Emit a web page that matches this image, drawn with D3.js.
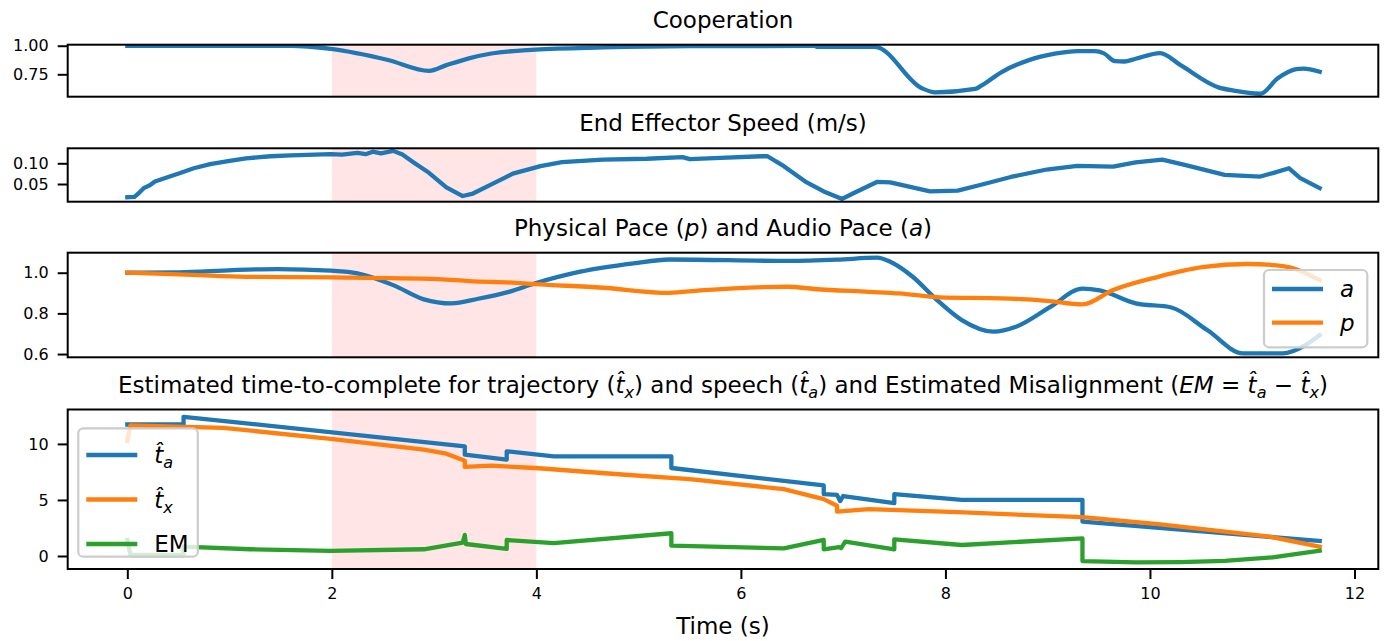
<!DOCTYPE html>
<html>
<head>
<meta charset="utf-8">
<script src="https://cdn.jsdelivr.net/npm/d3@7"></script>
<style>
  body { margin: 0; background: #fff; }
  svg { display: block; }
  text { font-family: "DejaVu Sans", sans-serif; fill: #000; }
</style>
</head>
<body>
<svg id="chart" width="1385" height="641"></svg>
<script>
// time axis shared by all panels (seconds)
var xTicks = [0, 2, 4, 6, 8, 10, 12];
var shade = [2, 4];

// Cooperation [t, value]
var coop = [[0,1.0],[1.6,1.0],[1.99,0.972],[2.55,0.875],[2.95,0.78],[3.12,0.83],[3.34,0.89],[3.56,0.932],
  [3.99,0.966],[4.65,0.985],[5.5,0.996],[6.72,0.998],[6.75,0.99],[7.31,0.99],[7.77,0.628],[7.9,0.592],
  [8.29,0.622],[8.35,0.65],[8.55,0.77],[8.81,0.872],[9.07,0.93],[9.29,0.953],[9.46,0.952],[9.55,0.933],
  [9.66,0.865],[9.75,0.862],[9.86,0.886],[10.1,0.936],[10.3,0.83],[10.67,0.636],[10.82,0.607],[11.08,0.58],
  [11.25,0.715],[11.43,0.795],[11.5,0.8],[11.66,0.772]];

// End effector speed (m/s)
var speed = [[0,0.018],[0.07,0.019],[0.12,0.03],[0.16,0.04],[0.22,0.047],[0.27,0.056],[0.4,0.067],[0.51,0.076],
  [0.65,0.088],[0.81,0.098],[1.0,0.106],[1.16,0.112],[1.4,0.117],[1.6,0.119],[1.99,0.122],[2.1,0.121],
  [2.25,0.125],[2.33,0.122],[2.4,0.128],[2.48,0.124],[2.6,0.13],[2.69,0.121],[2.8,0.102],[2.95,0.077],
  [3.12,0.042],[3.28,0.021],[3.38,0.027],[3.56,0.049],[3.77,0.075],[4.04,0.093],[4.25,0.103],[4.65,0.109],
  [5.08,0.111],[5.43,0.115],[5.5,0.11],[5.8,0.113],[6.2,0.117],[6.26,0.117],[6.42,0.093],[6.63,0.056],
  [6.81,0.032],[6.99,0.014],[7.11,0.029],[7.33,0.055],[7.46,0.054],[7.85,0.032],[8.12,0.034],[8.33,0.047],
  [8.64,0.067],[8.99,0.085],[9.29,0.094],[9.64,0.092],[9.86,0.102],[10.12,0.109],[10.34,0.096],[10.73,0.072],
  [11.08,0.068],[11.21,0.077],[11.36,0.088],[11.47,0.064],[11.66,0.04]];

// Audio pace (a) and physical pace (p)
var aPace = [[0,1.0],[0.51,1.002],[1.03,1.013],[1.47,1.018],[1.99,1.01],[2.25,0.997],[2.6,0.939],[2.9,0.869],
  [3.17,0.849],[3.43,0.872],[3.73,0.906],[3.99,0.948],[4.43,1.005],[4.95,1.046],[5.3,1.065],[6.46,1.058],
  [6.94,1.064],[7.33,1.074],[7.46,1.054],[7.68,0.98],[7.9,0.874],[8.16,0.767],[8.47,0.71],[8.69,0.734],
  [9.03,0.833],[9.34,0.922],[9.51,0.913],[9.86,0.849],[10.21,0.829],[10.56,0.718],[10.91,0.603],[11.3,0.603],
  [11.52,0.644],[11.66,0.693]];
var pPace = [[0,1.0],[0.64,0.989],[1.16,0.98],[1.99,0.977],[3.04,0.969],[3.34,0.959],[3.77,0.951],[3.99,0.944],
  [4.65,0.926],[5.3,0.901],[5.6,0.913],[6.46,0.931],[6.72,0.92],[7.25,0.906],[7.55,0.898],[7.94,0.879],
  [8.55,0.874],[8.99,0.862],[9.34,0.844],[9.64,0.915],[10.08,0.98],[10.51,1.027],[10.95,1.043],[11.3,1.033],
  [11.66,0.964]];

// estimated time-to-complete, speech (ta) and trajectory (tx), and misalignment EM
var taHat = [[0,11.73],[0.55,11.73],[0.55,12.42],[3.3,9.79],[3.3,9.04],[3.71,8.6],[3.71,9.34],[4.17,8.89],
  [5.32,8.89],[5.32,7.85],[6.81,6.3],[6.81,5.52],[6.94,5.45],[6.97,4.9],[7.0,5.35],[7.5,4.72],[7.5,5.52],
  [8.16,5.01],[9.34,5.01],[9.34,3.07],[11.66,1.34]];
var txHat = [[0,10.25],[0.03,11.65],[0.94,11.43],[1.99,10.45],[2.9,9.49],[3.12,9.13],[3.3,8.5],[3.3,7.95],
  [3.56,8.06],[3.99,7.85],[4.87,7.25],[5.5,6.85],[6.42,5.97],[6.81,5.08],[6.94,4.48],[6.94,3.95],[7.25,4.18],
  [8.12,3.91],[9.34,3.46],[10.08,2.84],[11.17,1.73],[11.66,0.83]];
var em = [[0,1.43],[0.03,0.09],[0.55,0.09],[0.55,0.83],[1.2,0.6],[1.99,0.45],[2.9,0.6],[3.28,1.19],[3.3,1.88],
  [3.31,1.07],[3.71,0.63],[3.71,1.43],[4.17,1.14],[5.32,2.03],[5.32,0.92],[6.42,0.68],[6.81,1.43],[6.81,0.6],
  [6.96,0.8],[6.98,0.7],[7.02,1.28],[7.5,0.6],[7.5,1.49],[8.16,0.98],[9.34,1.58],[9.34,-0.45],[9.86,-0.56],
  [10.3,-0.54],[10.73,-0.44],[11.2,-0.12],[11.66,0.47]];

var blue = "#1f77b4", orange = "#ff7f0e", green = "#2ca02c";

var svg = d3.select("#chart");
var x = d3.scaleLinear().domain([-0.583, 12.233]).range([67.7, 1378.3]);

var panels = [
  { top: 44.7, bottom: 96.7, dom: [0.554, 1.009], ticks: [0.75, 1.0], fmt: ".2f",
    title: [{t: "Cooperation"}],
    series: [{d: coop, c: blue, curve: d3.curveMonotoneX}] },
  { top: 148.3, bottom: 201.7, dom: [0.0073, 0.1362], ticks: [0.05, 0.10], fmt: ".2f",
    title: [{t: "End Effector Speed (m/s)"}],
    series: [{d: speed, c: blue, curve: d3.curveLinear}] },
  { top: 252.7, bottom: 357.3, dom: [0.584, 1.0985], ticks: [0.6, 0.8, 1.0], fmt: ".1f",
    title: [{t: "Physical Pace ("}, {t: "p", i: 1}, {t: ") and Audio Pace ("}, {t: "a", i: 1}, {t: ")"}],
    series: [{d: aPace, c: blue, curve: d3.curveMonotoneX}, {d: pPace, c: orange, curve: d3.curveMonotoneX}] },
  { top: 409.5, bottom: 569, dom: [-1.16, 13.07], ticks: [0, 5, 10], fmt: "d",
    title: [{t: "Estimated time-to-complete for trajectory ("}, {t: "t\u0302", i: 1}, {t: "x", i: 1, s: 1},
      {t: ") and speech ("}, {t: "t\u0302", i: 1}, {t: "a", i: 1, s: 1},
      {t: ") and Estimated Misalignment ("}, {t: "EM", i: 1}, {t: " = "}, {t: "t\u0302", i: 1}, {t: "a", i: 1, s: 1},
      {t: " \u2212 "}, {t: "t\u0302", i: 1}, {t: "x", i: 1, s: 1}, {t: ")"}],
    series: [{d: taHat, c: blue, curve: d3.curveLinear}, {d: txHat, c: orange, curve: d3.curveLinear},
      {d: em, c: green, curve: d3.curveLinear}] }
];

function richText(sel, parts, size) {
  parts.forEach(function(p) {
    var ts = sel.append("tspan").text(p.t);
    if (p.i) ts.attr("font-style", "italic");
    if (p.s) ts.attr("font-size", size * 0.7).attr("baseline-shift", -size * 0.22);
  });
}

panels.forEach(function(p, k) {
  var y = d3.scaleLinear().domain(p.dom).range([p.bottom, p.top]);
  var g = svg.append("g");
  var cid = "clip" + k;
  svg.append("clipPath").attr("id", cid).append("rect")
    .attr("x", x.range()[0]).attr("y", p.top).attr("width", x.range()[1] - x.range()[0]).attr("height", p.bottom - p.top);

  g.append("rect")
    .attr("x", x(shade[0])).attr("y", p.top)
    .attr("width", x(shade[1]) - x(shade[0])).attr("height", p.bottom - p.top)
    .attr("fill", "#ffe5e5");

  p.series.forEach(function(s) {
    var line = d3.line().x(function(d) { return x(d[0]); }).y(function(d) { return y(d[1]); }).curve(s.curve);
    g.append("path").datum(s.d)
      .attr("clip-path", "url(#" + cid + ")")
      .attr("d", line).attr("fill", "none").attr("stroke", s.c)
      .attr("stroke-width", 4.3).attr("stroke-linejoin", "round").attr("stroke-linecap", "square");
  });

  var ya = g.append("g").attr("transform", "translate(" + x.range()[0] + ",0)")
    .call(d3.axisLeft(y).tickValues(p.ticks).tickFormat(d3.format(p.fmt)).tickSize(10).tickSizeOuter(0).tickPadding(9));
  ya.select(".domain").remove();
  ya.selectAll("line").attr("stroke", "#000").attr("stroke-width", 2);
  ya.selectAll("text").attr("font-size", 16).attr("font-family", "DejaVu Sans");

  if (k === panels.length - 1) {
    var xa = g.append("g").attr("transform", "translate(0," + p.bottom + ")")
      .call(d3.axisBottom(x).tickValues(xTicks).tickFormat(d3.format("d")).tickSize(10).tickSizeOuter(0).tickPadding(9));
    xa.select(".domain").remove();
    xa.selectAll("line").attr("stroke", "#000").attr("stroke-width", 2);
    xa.selectAll("text").attr("font-size", 16).attr("font-family", "DejaVu Sans");
  }

  g.append("rect")
    .attr("x", x.range()[0]).attr("y", p.top)
    .attr("width", x.range()[1] - x.range()[0]).attr("height", p.bottom - p.top)
    .attr("fill", "none").attr("stroke", "#000").attr("stroke-width", 2);

  var tt = g.append("text").attr("x", (x.range()[0] + x.range()[1]) / 2).attr("y", p.top - 17)
    .attr("text-anchor", "middle").attr("font-size", 23);
  richText(tt, p.title, 23);
});

svg.append("text").attr("x", (x.range()[0] + x.range()[1]) / 2).attr("y", 634)
  .attr("text-anchor", "middle").attr("font-size", 23).text("Time (s)");

// legends
function legend(box, rows, gap, firstY) {
  var lg = svg.append("g");
  lg.append("rect").attr("x", box[0]).attr("y", box[1]).attr("width", box[2]).attr("height", box[3])
    .attr("rx", 5).attr("fill", "#fff").attr("fill-opacity", 0.8)
    .attr("stroke", "#cccccc").attr("stroke-width", 2.2);
  rows.forEach(function(r, i) {
    var yy = firstY + i * gap;
    lg.append("line").attr("x1", box[0] + 8).attr("x2", box[0] + 59).attr("y1", yy).attr("y2", yy)
      .attr("stroke", r.c).attr("stroke-width", 4.3);
    var t = lg.append("text").attr("x", box[0] + 76).attr("y", yy).attr("dy", "0.36em").attr("font-size", 23);
    richText(t, r.label, 23);
  });
}
legend([1264, 270, 103.3, 77.3], [
  {c: blue, label: [{t: "a", i: 1}]},
  {c: orange, label: [{t: "p", i: 1}]}], 33.7, 289);
legend([78.3, 428.3, 119.5, 128.4], [
  {c: blue, label: [{t: "t\u0302", i: 1}, {t: "a", i: 1, s: 1}]},
  {c: orange, label: [{t: "t\u0302", i: 1}, {t: "x", i: 1, s: 1}]},
  {c: green, label: [{t: "EM"}]}], 44.5, 455);
</script>
</body>
</html>
